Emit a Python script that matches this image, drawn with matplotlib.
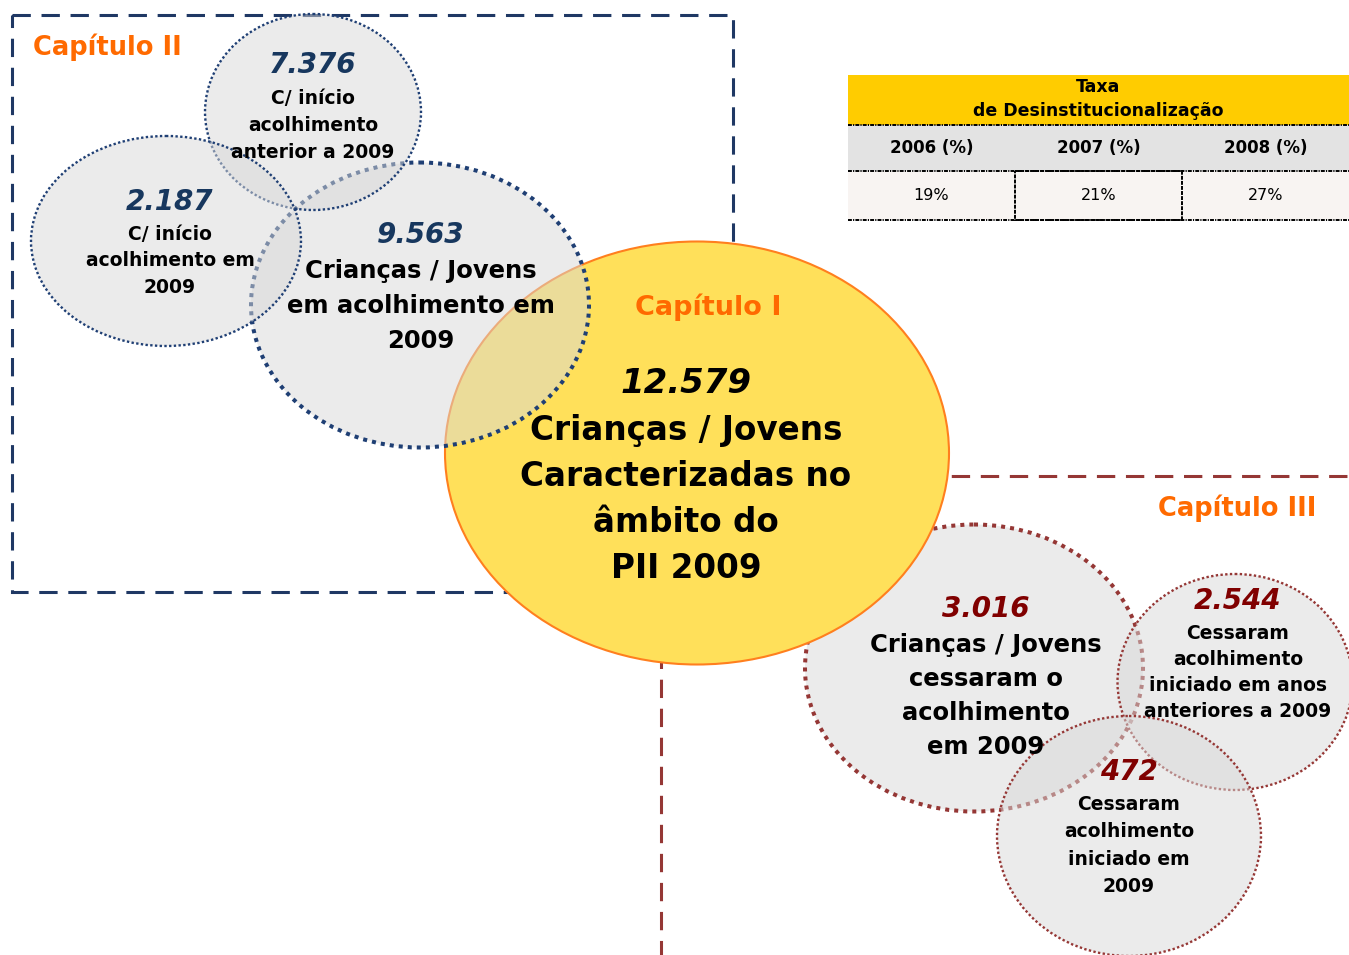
import matplotlib.pyplot as plt
from matplotlib.patches import Ellipse, Rectangle

# ---- values -------------------------------------------------------------
chapter_titles = ["Capítulo I", "Capítulo II", "Capítulo III"]

total_count = "12.579"
total_lines = ["Crianças / Jovens", "Caracterizadas no", "âmbito do", "PII 2009"]

ch2_counts = ["9.563", "7.376", "2.187"]
ch2_lines = [
    ["Crianças / Jovens", "em acolhimento em", "2009"],
    ["C/ início", "acolhimento", "anterior a 2009"],
    ["C/ início", "acolhimento em", "2009"],
]

ch3_counts = ["3.016", "2.544", "472"]
ch3_lines = [
    ["Crianças / Jovens", "cessaram o", "acolhimento", "em 2009"],
    ["Cessaram", "acolhimento", "iniciado em anos", "anteriores a 2009"],
    ["Cessaram", "acolhimento", "iniciado em", "2009"],
]

table_title = ["Taxa", "de Desinstitucionalização"]
table_years = ["2006 (%)", "2007 (%)", "2008 (%)"]
table_rates = [19, 21, 27]

# ---- styling -------------------------------------------------------------
ORANGE = "#FF6A00"
NAVY = "#1F3F74"
NAVY_NUM = "#17375E"
BROWN = "#953735"
BROWN_NUM = "#800000"
GRAY = (0.85, 0.85, 0.85, 0.5)
THICK = (0, (1, 1.25))
THIN = (0, (1, 1))

plt.rcParams["font.family"] = ["DejaVu Sans"]

fig = plt.figure(figsize=(13.49, 9.55), dpi=100)
ax = fig.add_axes([0, 0, 1, 1])
ax.set_xlim(0, 1349)
ax.set_ylim(955, 0)
ax.axis("off")


def bubble(cx, cy, w, h, edge, lw, z, ls=THIN, face=GRAY):
    e = Ellipse((cx, cy), w, h, facecolor=face, edgecolor=edge, lw=lw,
                linestyle=ls, zorder=z)
    e.set_capstyle("butt")
    ax.add_patch(e)


def block(cx, y0, num, lines, numcolor, numsize, size, gap, step):
    ax.text(cx, y0, num, fontsize=numsize, fontweight="bold", fontstyle="italic",
            color=numcolor, ha="center", va="center", zorder=20)
    for i, s in enumerate(lines):
        ax.text(cx, y0 + gap + i * step, s, fontsize=size, fontweight="bold",
                color="black", ha="center", va="center", zorder=20)


# chapter boxes (behind everything)
ax.add_patch(Rectangle((12, 15), 721, 577, fill=False, edgecolor="#1F3864",
                       lw=2.2, linestyle=(0, (6, 3.5)), zorder=1))
ax.plot([661, 661], [476, 970], color=BROWN, lw=2.2, linestyle=(0, (6, 3.5)), zorder=1)
ax.plot([661, 1360], [476, 476], color=BROWN, lw=2.2, linestyle=(0, (6, 3.5)), zorder=1)

# chapter III main bubble sits under the yellow one
bubble(974, 668, 338, 287, BROWN, 2.9, 2, ls=THICK)

# chapter I
ax.add_patch(Ellipse((697, 453), 504, 423, facecolor="#FFE05A",
                     edgecolor="#FF7F1E", lw=1.5, zorder=3))

# chapter II bubbles
bubble(420, 305, 338, 285, NAVY, 2.9, 4, ls=THICK)
bubble(313, 112, 216, 196, NAVY, 1.7, 5)
bubble(166, 241, 270, 210, NAVY, 1.7, 6)

# chapter III small bubbles
bubble(1235, 682, 235, 216, BROWN, 1.7, 7)
bubble(1129, 836, 264, 240, BROWN, 1.7, 8)

# chapter titles
ax.text(708, 307, chapter_titles[0], fontsize=19.5, fontweight="bold",
        color=ORANGE, ha="center", va="center", zorder=20)
ax.text(33, 47, chapter_titles[1], fontsize=18.5, fontweight="bold",
        color=ORANGE, ha="left", va="center", zorder=20)
ax.text(1237, 508, chapter_titles[2], fontsize=18.5, fontweight="bold",
        color=ORANGE, ha="center", va="center", zorder=20)

# text blocks
block(686, 383, total_count, total_lines, "black", 24.5, 23.5, 47, 46.3)

block(421, 235, ch2_counts[0], ch2_lines[0], NAVY_NUM, 20, 17.5, 36, 35)
block(313, 65, ch2_counts[1], ch2_lines[1], NAVY_NUM, 20, 13.5, 33, 27.5)
block(170, 202, ch2_counts[2], ch2_lines[2], NAVY_NUM, 20, 13.5, 32, 26.5)

block(986, 609, ch3_counts[0], ch3_lines[0], BROWN_NUM, 20, 17.5, 36, 34)
block(1238, 601, ch3_counts[1], ch3_lines[1], BROWN_NUM, 20, 13.5, 32, 26.3)
block(1129, 772, ch3_counts[2], ch3_lines[2], BROWN_NUM, 20, 13.5, 32, 27.5)

# rate table
tx, tw = 848, 501
cw = tw / len(table_years)
ax.add_patch(Rectangle((tx, 75), tw, 50, facecolor="#FFCC00", lw=0, zorder=9))
ax.add_patch(Rectangle((tx, 125), tw, 46, facecolor="#E3E3E3", lw=0, zorder=9))
ax.add_patch(Rectangle((tx, 171), tw, 49, facecolor="#F8F4F2", lw=0, zorder=9))
for yy in (125, 171, 220):
    ax.plot([tx, tx + tw], [yy, yy], color="black", lw=1.4,
            linestyle=(0, (2, 0.6, 0.6, 0.6)), zorder=10)
ax.add_patch(Rectangle((tx + cw, 171), cw, 49, fill=False, edgecolor="black",
                       lw=1.4, linestyle=(0, (2, 0.6)), zorder=10))
ax.text(tx + tw / 2, 87, table_title[0], fontsize=12.5, fontweight="bold",
        ha="center", va="center", zorder=20)
ax.text(tx + tw / 2, 111, table_title[1], fontsize=12.5, fontweight="bold",
        ha="center", va="center", zorder=20)
for i, (yr, r) in enumerate(zip(table_years, table_rates)):
    ax.text(tx + cw * (i + 0.5), 148, yr, fontsize=12, fontweight="bold",
            ha="center", va="center", zorder=20)
    ax.text(tx + cw * (i + 0.5), 195, "%d%%" % r, fontsize=11.5,
            ha="center", va="center", zorder=20)

fig.savefig("out.png", dpi=100)
